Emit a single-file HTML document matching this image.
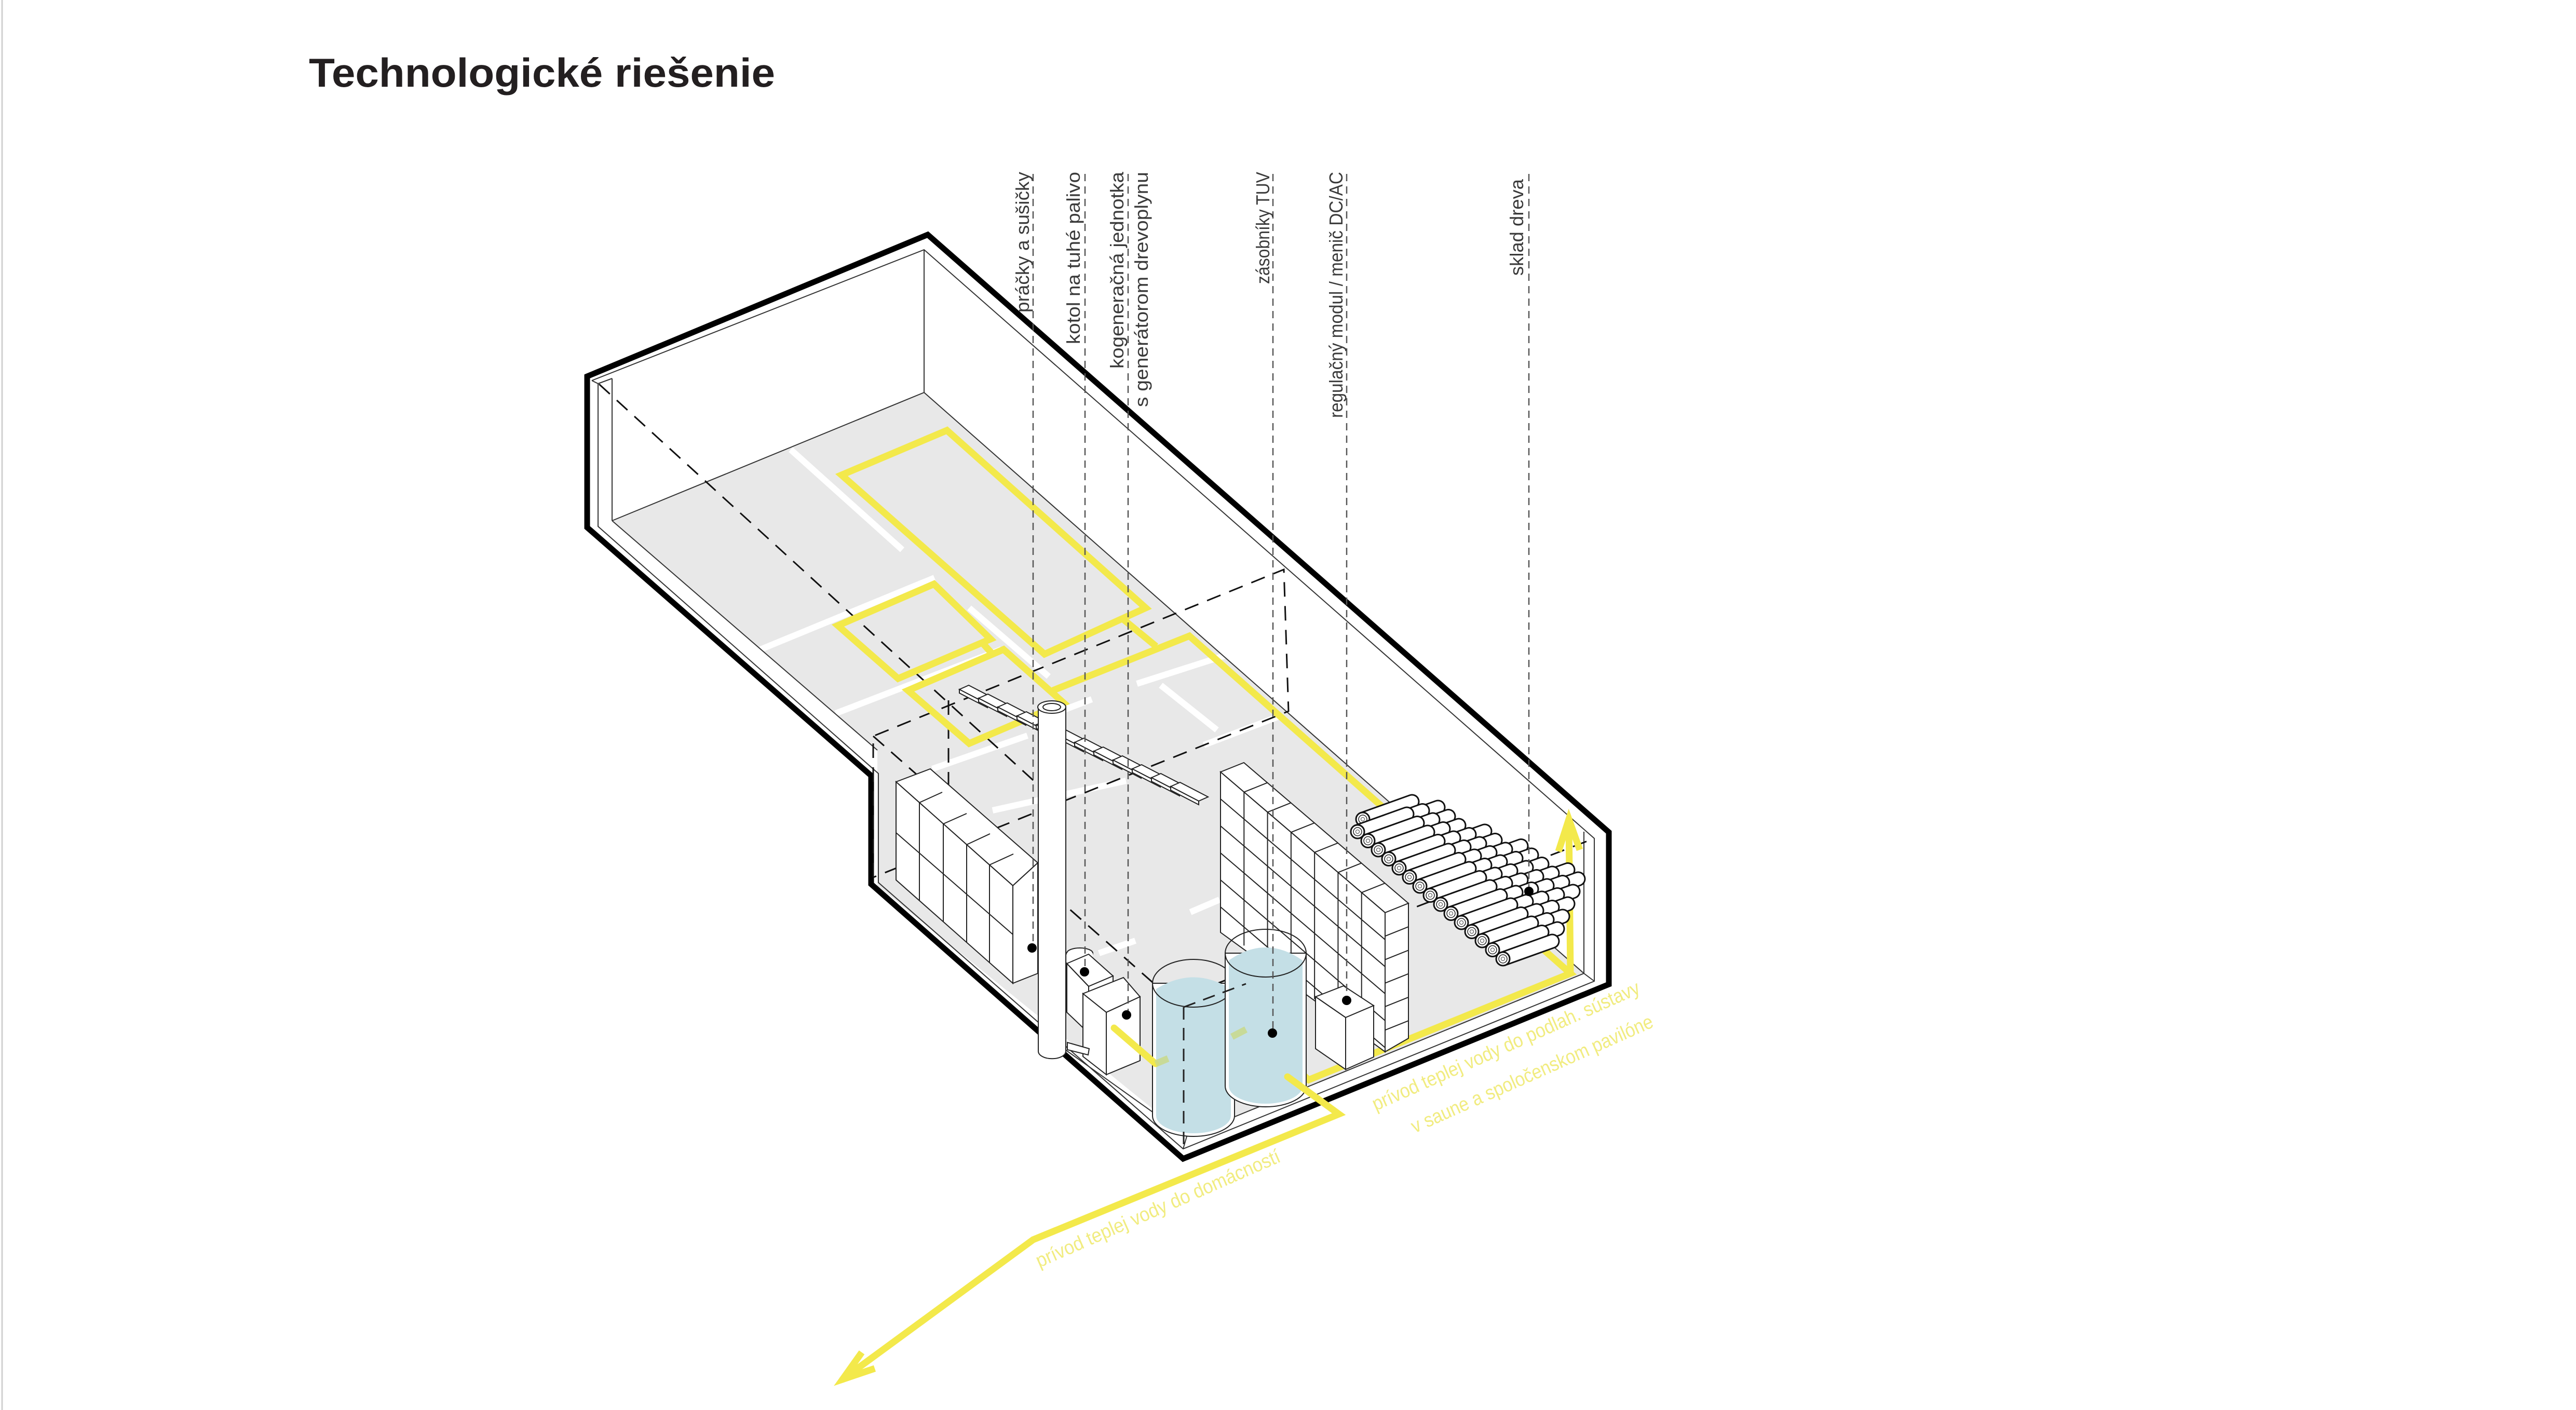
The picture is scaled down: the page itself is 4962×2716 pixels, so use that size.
<!DOCTYPE html>
<html><head><meta charset="utf-8"><style>
html,body{margin:0;padding:0;background:#fff;}
svg{display:block;}
text{font-family:"Liberation Sans",sans-serif;}
</style></head><body>
<svg id="s" width="4962" height="2716" viewBox="0 0 4962 2716" xmlns="http://www.w3.org/2000/svg">
<rect x="0" y="0" width="4962" height="2716" fill="#fff"/>
<line x1="4" y1="0" x2="4" y2="2716" stroke="#d0d0d0" stroke-width="3"/>
<text x="595" y="167" font-size="78" font-weight="bold" fill="#231f20" textLength="898" lengthAdjust="spacingAndGlyphs">Technologické riešenie</text>

<polygon points="1179,1003 1780,756 3051,1875 2286,2189 1690,1706 1690,1445" fill="#e8e8e8"/>
<g stroke="#fff" stroke-width="12" fill="none">
<line x1="1523" y1="866" x2="1738" y2="1059"/>
<line x1="1465" y1="1251" x2="1800" y2="1113"/>
<line x1="1867" y1="1171" x2="2020" y2="1303"/>
<line x1="1610" y1="1374" x2="1929" y2="1251"/>
<line x1="2190" y1="1317" x2="2368" y2="1260"/>
<line x1="2236" y1="1320" x2="2344" y2="1406"/>
<line x1="2319" y1="1435" x2="2461" y2="1381"/>
<line x1="2045" y1="1369" x2="2103" y2="1347"/>
<line x1="1796" y1="1481" x2="1979" y2="1417"/>
<line x1="1912" y1="1561" x2="2169" y2="1504"/>
<line x1="2293" y1="1757" x2="2349" y2="1733"/>
<line x1="2117" y1="1836" x2="2187" y2="1812"/>
</g>

<g stroke="#333" stroke-width="2" fill="none">
<polyline points="1140,733 1780,481 3071,1615 3071,1890 2279,2213 1692,1700 1692,1490 1152,1014 1152,739 1140,733"/>
<line x1="1152" y1="739" x2="1179" y2="729"/>
<line x1="1179" y1="729" x2="1179" y2="1003"/>
<line x1="1179" y1="1003" x2="1780" y2="756"/>
<line x1="1780" y1="481" x2="1780" y2="756"/>
<line x1="1780" y1="756" x2="3051" y2="1875"/>
<line x1="3051" y1="1602" x2="3051" y2="1875"/>
<line x1="3051" y1="1875" x2="3071" y2="1890"/>
<line x1="3051" y1="1875" x2="2286" y2="2189"/>
<line x1="2286" y1="2189" x2="2279" y2="2213"/>
<line x1="1179" y1="1003" x2="1690" y2="1445"/>
<line x1="2052" y1="2022" x2="2286" y2="2189"/>
</g>
<polygon points="1131,725 1787,452 3099,1603 3099,1896 2279,2232 1678,1703 1678,1494 1131,1016" fill="none" stroke="#000" stroke-width="11" stroke-linejoin="miter"/>

<g stroke="#111" stroke-width="3" fill="none" stroke-dasharray="28 18">
<line x1="1154" y1="740" x2="2000" y2="1512"/>
<line x1="1682" y1="1418" x2="2280" y2="1945"/>
<polyline points="1682,1690 1682,1418 2473,1097 2482,1370 1682,1690"/>
<line x1="1827" y1="1349" x2="1827" y2="1621"/>
<line x1="2257" y1="1928" x2="3071" y2="1615"/>
</g>

<g stroke="#f3e94b" stroke-width="13" fill="none" stroke-linejoin="miter">
<polygon points="1621,915 1824,829 2207,1171 2012,1260"/>
<polygon points="1614,1205 1799,1125 1908,1231 1730,1307"/>
<polygon points="1749,1330 1933,1251 2049,1354 1867,1432"/>
<line x1="1892" y1="1238" x2="1910" y2="1258"/>
<polyline points="2165,1194 2227,1245"/>
<polyline points="2028,1330 2291,1225 3025,1875 2521,2080 2498,2060"/>
<polyline points="3025,1875 3022,1585"/>
<polyline points="3002,1640 3022,1578 3043,1637"/>
</g>

<g id="stairs" stroke="#222" stroke-width="2" fill="#fff"></g>

<g stroke="#222" stroke-width="2" fill="#fff">
<polygon points="1726,1506 1792,1481 1999,1662 1951,1706"/>
<polygon points="1726,1506 1951,1706 1951,1894 1726,1695"/>
<polygon points="1951,1706 1999,1662 1999,1875 1951,1894"/>
<line x1="1771" y1="1546" x2="1771" y2="1735"/>
<line x1="1817" y1="1587" x2="1817" y2="1776"/>
<line x1="1862" y1="1627" x2="1862" y2="1815"/>
<line x1="1906" y1="1666" x2="1906" y2="1855"/>
<line x1="1726" y1="1604" x2="1951" y2="1800"/>
<line x1="1771" y1="1546" x2="1815" y2="1526"/>
<line x1="1817" y1="1587" x2="1862" y2="1567"/>
<line x1="1862" y1="1627" x2="1907" y2="1606"/>
<line x1="1906" y1="1666" x2="1952" y2="1645"/>
</g>

<g stroke="#222" stroke-width="2">
<path d="M2000,1362 L2000,2025 A26,14 0 0 0 2053,2025 L2053,1362 Z" fill="#fff"/>
<ellipse cx="2026" cy="1362" rx="27" ry="12" fill="#fff"/>
<ellipse cx="2026" cy="1362" rx="17" ry="7" fill="#fff"/>
</g>

<g stroke="#222" stroke-width="2" fill="#fff">
<ellipse cx="2080" cy="1836" rx="25" ry="10"/>
<rect x="2055" y="1836" width="50" height="20" stroke="none"/>
<polygon points="2055,1856 2097,1838 2144,1880 2097,1900"/>
<polygon points="2055,1856 2097,1900 2097,1990 2055,1950"/>
<polygon points="2097,1900 2144,1880 2144,1970 2097,1990"/>
<polygon points="2086,1914 2164,1883 2196,1920 2131,1950"/>
<polygon points="2086,1914 2131,1950 2131,2070 2086,2035"/>
<polygon points="2131,1950 2196,1920 2196,2043 2131,2070"/>
<polygon points="2056,2008 2098,2020 2096,2032 2056,2022"/>
</g>

<g id="rack" stroke="#222" stroke-width="2" fill="#fff">
<polygon points="2351,1487 2396,1469 2713,1740 2668,1758"/>
<polygon points="2351,1487 2668,1758 2668,2026 2351,1796"/>
<polygon points="2668,1758 2713,1740 2713,2000 2668,2026"/>
</g>

<g stroke="#222" stroke-width="2" fill="#fff">
<polygon points="2534,1920 2588,1899 2646,1937 2592,1960"/>
<polygon points="2534,1920 2592,1960 2592,2060 2534,2020"/>
<polygon points="2592,1960 2646,1937 2646,2036 2592,2060"/>
</g>

<g stroke="#222" stroke-width="2">
<path d="M2220,1894 L2220,2149 A79,40 0 0 0 2378,2149 L2378,1894 Z" fill="#fff"/>
<path d="M2227,1905 Q2299,1860 2371,1905 L2371,2149 A72,34 0 0 1 2227,2149 Z" fill="#c4dfe6" stroke="none"/>
<ellipse cx="2299" cy="1894" rx="79" ry="46" fill="none"/>
<path d="M2360,1836 L2360,2092 A78,40 0 0 0 2516,2092 L2516,1836 Z" fill="#fff"/>
<path d="M2367,1850 Q2438,1800 2509,1850 L2509,2092 A71,34 0 0 1 2367,2092 Z" fill="#c4dfe6" stroke="none"/>
<ellipse cx="2438" cy="1836" rx="78" ry="46" fill="none"/>
</g>
<g stroke="#222" stroke-width="3" fill="none" stroke-dasharray="24 16">
<line x1="2280" y1="1940" x2="2280" y2="2205"/>
<line x1="2280" y1="1940" x2="2400" y2="1895"/>
</g>

<g id="logs"></g>

<g stroke="#f3e94b" stroke-width="13" fill="none" stroke-linecap="round">
<polyline points="2146,1980 2226,2049"/>
<polyline points="2480,2074 2579,2146 1990,2388 1623,2657"/>
<polyline points="1660,2605 1623,2657 1685,2636" stroke-linecap="butt"/>
</g>
<g stroke="#c9d98a" stroke-width="13" fill="none" opacity="0.85">
<line x1="2226" y1="2049" x2="2250" y2="2039"/>
<line x1="2373" y1="1997" x2="2400" y2="1983"/>
</g>

<g stroke="#555" stroke-width="2.5" stroke-dasharray="14 10" fill="none">
<line x1="1990" y1="335" x2="1990" y2="1826"/>
<line x1="2090" y1="335" x2="2090" y2="1872"/>
<line x1="2173" y1="335" x2="2173" y2="1955"/>
<line x1="2452" y1="335" x2="2452" y2="1990"/>
<line x1="2594" y1="335" x2="2594" y2="1927"/>
<line x1="2945" y1="335" x2="2945" y2="1717"/>
</g>
<g fill="#000">
<circle cx="1988" cy="1826" r="9"/>
<circle cx="2089" cy="1872" r="9"/>
<circle cx="2170" cy="1955" r="9"/>
<circle cx="2451" cy="1990" r="9"/>
<circle cx="2594" cy="1927" r="9"/>
<circle cx="2945" cy="1717" r="9"/>
</g>

<g fill="#3a3a3a" font-size="36">
<text transform="translate(1982,602) rotate(-90)" textLength="271" lengthAdjust="spacingAndGlyphs">práčky a sušičky</text>
<text transform="translate(2080,663) rotate(-90)" textLength="332" lengthAdjust="spacingAndGlyphs">kotol na tuhé palivo</text>
<text transform="translate(2164,710) rotate(-90)" textLength="379" lengthAdjust="spacingAndGlyphs">kogeneračná jednotka</text>
<text transform="translate(2211,784) rotate(-90)" textLength="453" lengthAdjust="spacingAndGlyphs">s generátorom drevoplynu</text>
<text transform="translate(2445,547) rotate(-90)" textLength="216" lengthAdjust="spacingAndGlyphs">zásobníky TUV</text>
<text transform="translate(2586,805) rotate(-90)" textLength="474" lengthAdjust="spacingAndGlyphs">regulačný modul / menič DC/AC</text>
<text transform="translate(2934,531) rotate(-90)" textLength="186" lengthAdjust="spacingAndGlyphs">sklad dreva</text>
</g>
<g fill="#f1ec80" font-size="38">
<text transform="translate(2002,2442) rotate(-23.7)" textLength="510" lengthAdjust="spacingAndGlyphs">prívod teplej vody do domácností</text>
<text transform="translate(2650,2140) rotate(-24)" textLength="560" lengthAdjust="spacingAndGlyphs">prívod teplej vody do podlah. sústavy</text>
<text transform="translate(2725,2183) rotate(-24)" textLength="506" lengthAdjust="spacingAndGlyphs">v saune a spoločenskom pavilóne</text>
</g>
</svg>
<script>
(function(){
var NS="http://www.w3.org/2000/svg";
function el(p,n,a){var e=document.createElementNS(NS,n);for(var k in a)e.setAttribute(k,a[k]);p.appendChild(e);return e;}
var st=document.getElementById('stairs');
for(var i=0;i<12;i++){var cx=1858+i*37,cy=1340+i*17;
el(st,'polygon',{points:[cx-10,cy-12,cx+8,cy-20,cx+62,cy+8,cx+44,cy+16].join(',')});
el(st,'polygon',{points:[cx-10,cy-12,cx+44,cy+16,cx+44,cy+23,cx-10,cy-5].join(',')});}
var r=document.getElementById('rack');
var A=[2351,1487],U=[317,271],H=300;
for(var c=1;c<7;c++){var x=A[0]+U[0]*c/7,y=A[1]+U[1]*c/7;
el(r,'line',{x1:x,y1:y,x2:x,y2:y+H-(c/7)*30});
el(r,'line',{x1:x,y1:y,x2:x+45,y2:y-18});}
for(var w=1;w<6;w++){var dy=w*52;
el(r,'line',{x1:A[0],y1:A[1]+dy,x2:A[0]+U[0],y2:A[1]+U[1]+dy});
el(r,'line',{x1:2668,y1:1758+dy*0.87,x2:2713,y2:1740+dy*0.87});}
var g=document.getElementById('logs');
var logs=[];
for(var k=0;k<15;k++){var n=2+Math.round(k*4/14);
for(var l=0;l<n;l++){logs.push([2615+k*20+l*10, 1602+k*17.5-l*24, l]);}}
logs.sort(function(a,b){return (b[2]-a[2])||((a[0])-(b[0]));});
var D=[95,-34],R=13;
logs.forEach(function(p){var x=p[0],y=p[1];
var len=Math.sqrt(D[0]*D[0]+D[1]*D[1]),nx=-D[1]/len*R,ny=D[0]/len*R;
var d='M'+(x+nx)+','+(y+ny)+' L'+(x+D[0]+nx)+','+(y+D[1]+ny)+' A'+R+','+R+' 0 0 0 '+(x+D[0]-nx)+','+(y+D[1]-ny)+' L'+(x-nx)+','+(y-ny)+' Z';
el(g,'path',{d:d,fill:'#fff',stroke:'#111','stroke-width':3});
el(g,'circle',{cx:x,cy:y,r:R,fill:'#fff',stroke:'#111','stroke-width':3});
el(g,'circle',{cx:x,cy:y,r:8,fill:'none',stroke:'#222','stroke-width':1.5});
el(g,'circle',{cx:x,cy:y,r:3.5,fill:'none',stroke:'#444','stroke-width':1});});
})();
</script>
</body></html>
